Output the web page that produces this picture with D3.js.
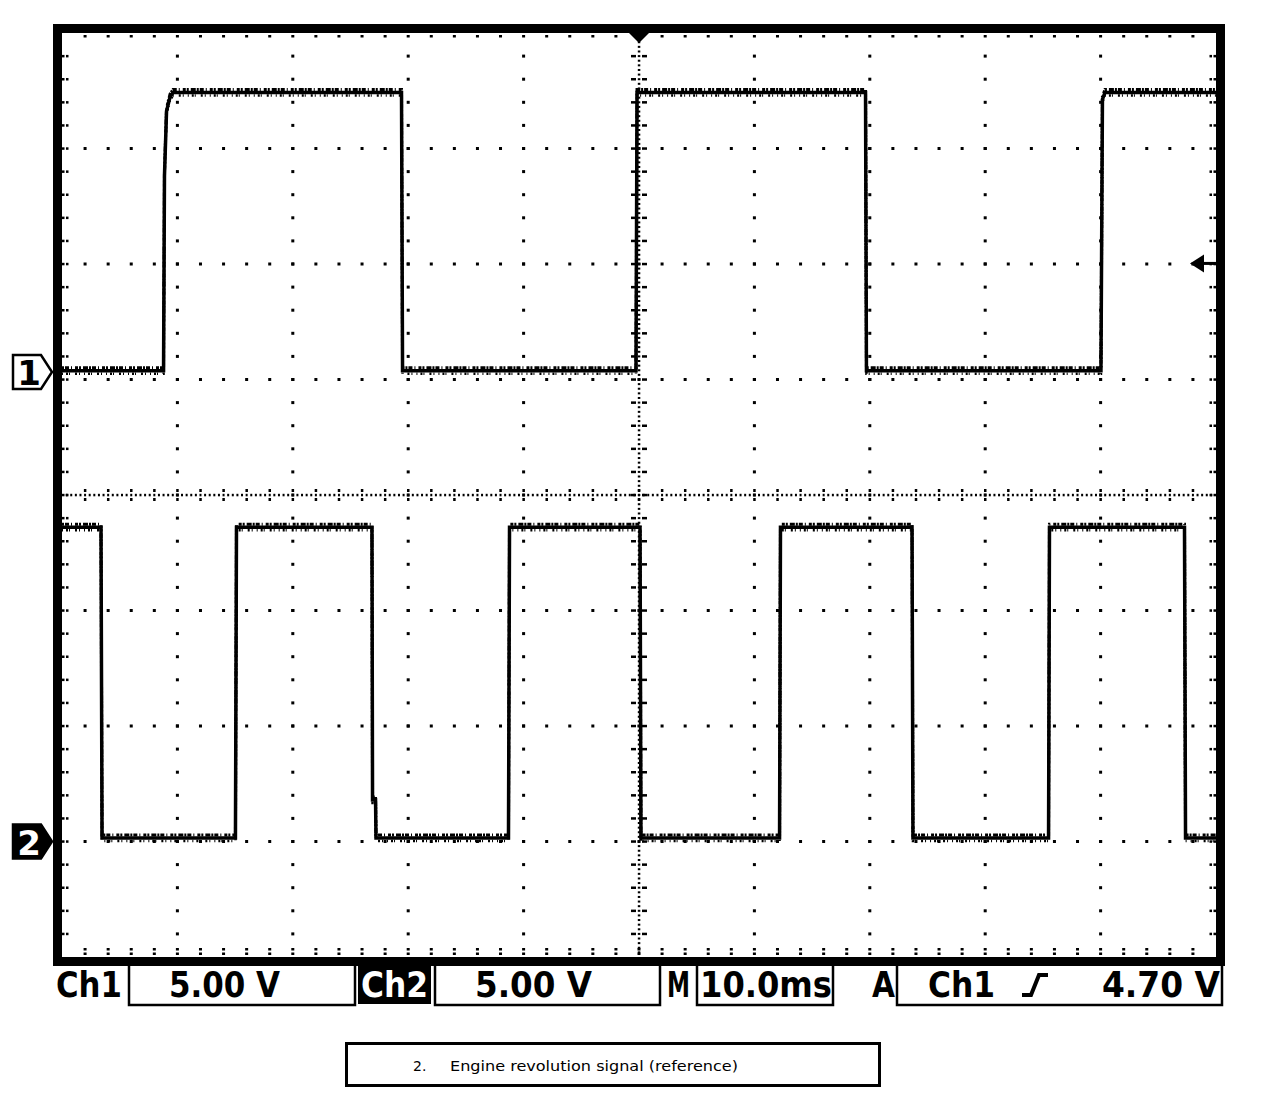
<!DOCTYPE html>
<meta charset="utf-8">
<style>
body { margin: 0; background: #fff; }
svg { display: block; }
.status { font-family: "DejaVu Sans", sans-serif; font-weight: bold; font-size: 36px; }
.caption { font-family: "DejaVu Sans", sans-serif; font-size: 14px; }
</style>
<body>
<script src="https://d3js.org/d3.v7.min.js"></script>
<svg width="1264" height="1112"></svg>
<script>
// time in ms relative to trigger, voltage in V
var ch1Time  = [-50, -41.20, -41.12, -40.94, -40.64, -40.38, -20.58, -20.49, -0.26, -0.17, 19.63, 19.71, 40.03, 40.16, 40.38, 50];
var ch1Volts = [0.05, 0.05, 8.5, 11.3, 11.9, 12.1, 12.1, 0.05, 0.05, 12.1, 12.1, 0.05, 0.05, 11.8, 12.1, 12.1];

var ch2Time  = [-50, -46.62, -46.53, -34.97, -34.88, -23.14, -23.09, -22.83, -22.79, -11.31, -11.22, 0.09, 0.17, 12.18, 12.26, 23.66, 23.74, 35.49, 35.57, 47.27, 47.36, 50];
var ch2Volts = [13.6, 13.6, 0.15, 0.15, 13.6, 13.6, 1.8, 1.8, 0.15, 0.15, 13.6, 13.6, 0.15, 0.15, 13.6, 13.6, 0.15, 0.15, 13.6, 13.6, 0.15, 0.15];

var voltsPerDiv = 5;
var ch1Offset = 1.065;   // divisions
var ch2Offset = -3;
var triggerLevel = 4.7;

var statusItems = [
  {text: "Ch1", x: 56, w: 66},
  {text: "5.00 V", x: 169, w: 111},
  {text: "Ch2", x: 361, w: 67, inverse: true},
  {text: "5.00 V", x: 475, w: 117},
  {text: "M", x: 667, w: 23},
  {text: "10.0ms", x: 700, w: 132},
  {text: "A", x: 872, w: 23},
  {text: "Ch1", x: 928, w: 67},
  {text: "4.70 V", x: 1102, w: 118}
];
var statusBoxes = [[129, 355], [435, 660], [697, 833], [897, 1222]];

var svg = d3.select("svg");

var x = d3.scaleLinear().domain([-50, 50]).range([62, 1216]);
var y = d3.scaleLinear().domain([-4, 4]).range([957, 33]);

// ---- graticule ----
var grid = svg.append("g").attr("fill", "black");

// dotted major lines
d3.range(-40, 41, 10).filter(function(t) { return t != 0; }).forEach(function(t) {
  d3.range(-3.8, 3.81, 0.2).forEach(function(d) {
    grid.append("rect").attr("x", x(t) - 1.5).attr("y", y(d) - 1.5).attr("width", 3).attr("height", 3);
  });
});
d3.range(-3, 3.1, 1).filter(function(d) { return d != 0; }).forEach(function(d) {
  d3.range(-48, 48.1, 2).forEach(function(t) {
    grid.append("rect").attr("x", x(t) - 1.5).attr("y", y(d) - 1.5).attr("width", 3).attr("height", 3);
  });
});

// centre lines with fine dots and cross ticks
d3.range(-49.6, 49.7, 0.4).forEach(function(t) {
  grid.append("rect").attr("x", x(t) - 1).attr("y", y(0) - 1.2).attr("width", 2).attr("height", 2.5);
});
d3.range(-48, 48.1, 2).forEach(function(t) {
  grid.append("rect").attr("x", x(t) - 1.2).attr("y", y(0) - 6).attr("width", 2.5).attr("height", 3);
  grid.append("rect").attr("x", x(t) - 1.2).attr("y", y(0) + 3).attr("width", 2.5).attr("height", 3);
});
d3.range(-3.96, 3.97, 0.04).forEach(function(d) {
  grid.append("rect").attr("x", x(0) - 1.2).attr("y", y(d) - 1).attr("width", 2.5).attr("height", 2);
});
d3.range(-3.8, 3.81, 0.2).forEach(function(d) {
  grid.append("rect").attr("x", x(0) - 8).attr("y", y(d) - 1.2).attr("width", 5).attr("height", 2.5);
  grid.append("rect").attr("x", x(0) + 3).attr("y", y(d) - 1.2).attr("width", 5).attr("height", 2.5);
});

// edge ticks
d3.range(-3.8, 3.81, 0.2).forEach(function(d) {
  grid.append("rect").attr("x", x(-50)).attr("y", y(d) - 1.2).attr("width", 2.5).attr("height", 2.5);
  grid.append("rect").attr("x", x(-50) + 4).attr("y", y(d) - 1.2).attr("width", 2.5).attr("height", 2.5);
  grid.append("rect").attr("x", x(50) - 2.5).attr("y", y(d) - 1.2).attr("width", 2.5).attr("height", 2.5);
  grid.append("rect").attr("x", x(50) - 6.5).attr("y", y(d) - 1.2).attr("width", 2.5).attr("height", 2.5);
});
d3.range(-48, 48.1, 2).forEach(function(t) {
  grid.append("rect").attr("x", x(t) - 1.5).attr("y", y(4) + 2).attr("width", 3).attr("height", 2.5);
  grid.append("rect").attr("x", x(t) - 1.5).attr("y", y(-4) - 4.5).attr("width", 3).attr("height", 2.5);
  grid.append("rect").attr("x", x(t) - 1.5).attr("y", y(-4) - 9).attr("width", 3).attr("height", 2.5);
});

// frame
svg.append("rect")
  .attr("x", x(-50) - 4.5).attr("y", y(4) - 4.5)
  .attr("width", x(50) - x(-50) + 9).attr("height", y(-4) - y(4) + 9)
  .attr("fill", "none").attr("stroke", "black").attr("stroke-width", 9);

// ---- traces ----
function drawTrace(times, volts, offset) {
  var pts = times.map(function(t, i) { return {t: t, v: volts[i]}; });
  var line = d3.line()
    .x(function(d) { return x(d.t); })
    .y(function(d) { return y(d.v / voltsPerDiv + offset); });
  var g = svg.append("g").attr("fill", "none").attr("stroke", "black");
  g.append("path").attr("d", line(pts)).attr("stroke-width", 3.5);
  g.append("path").attr("d", line(pts)).attr("stroke-width", 3)
    .attr("transform", "translate(0,-3)")
    .attr("stroke-dasharray", "2,1,4,2,1,3,3,1,2,2,5,1");
  g.append("path").attr("d", line(pts)).attr("stroke-width", 2.5)
    .attr("transform", "translate(0,3)")
    .attr("stroke-dasharray", "1,3,2,1,1,5,2,2,1,4");
}
drawTrace(ch1Time, ch1Volts, ch1Offset);
drawTrace(ch2Time, ch2Volts, ch2Offset);

// trigger position marker (top)
svg.append("path")
  .attr("d", "M" + (x(0) - 10) + "," + y(4) + "L" + (x(0) + 10) + "," + y(4) + "L" + x(0) + "," + (y(4) + 10) + "Z")
  .attr("fill", "black");

// trigger level arrow (right)
var ty = y(triggerLevel / voltsPerDiv + ch1Offset);
svg.append("path")
  .attr("d", "M1190," + ty + "L1204," + (ty - 9) + "L1204," + (ty + 9) + "Z")
  .attr("fill", "black");
svg.append("rect").attr("x", 1203).attr("y", ty - 1.5).attr("width", 13).attr("height", 3).attr("fill", "black");

// channel ground markers
function marker(label, offset, filled) {
  var gy = y(offset);
  var g = svg.append("g");
  g.append("path")
    .attr("d", "M13," + (gy - 17) + "L41," + (gy - 17) + "L52," + gy + "L41," + (gy + 17) + "L13," + (gy + 17) + "Z")
    .attr("fill", filled ? "black" : "white")
    .attr("stroke", "black").attr("stroke-width", 2.5);
  g.append("text")
    .attr("x", 29).attr("y", gy + 13)
    .attr("text-anchor", "middle")
    .attr("class", "status").style("font-size", "34px")
    .attr("fill", filled ? "white" : "black")
    .text(label);
}
marker("1", ch1Offset, false);
marker("2", ch2Offset, true);

// ---- status bar ----
var bar = svg.append("g");
statusBoxes.forEach(function(b) {
  bar.append("path")
    .attr("d", "M" + b[0] + ",966L" + b[0] + ",1005L" + b[1] + ",1005L" + b[1] + ",966")
    .attr("fill", "none").attr("stroke", "black").attr("stroke-width", 2.5);
});
bar.append("rect").attr("x", 358).attr("y", 966).attr("width", 73).attr("height", 38).attr("fill", "black");
statusItems.forEach(function(s) {
  bar.append("text")
    .attr("class", "status")
    .attr("x", s.x).attr("y", 997)
    .attr("textLength", s.w).attr("lengthAdjust", "spacingAndGlyphs")
    .attr("fill", s.inverse ? "white" : "black")
    .text(s.text);
});
// rising edge symbol
bar.append("path")
  .attr("d", "M1022,995L1031,995L1039,975L1048,975")
  .attr("fill", "none").attr("stroke", "black").attr("stroke-width", 4);

// ---- caption ----
svg.append("rect")
  .attr("x", 346.5).attr("y", 1043.5).attr("width", 533).attr("height", 42)
  .attr("fill", "none").attr("stroke", "black").attr("stroke-width", 3);
svg.append("text").attr("class", "caption").attr("x", 413).attr("y", 1071).text("2.");
svg.append("text").attr("class", "caption").attr("x", 450).attr("y", 1071)
  .attr("textLength", 288).attr("lengthAdjust", "spacingAndGlyphs")
  .text("Engine revolution signal (reference)");
</script>
</body>
